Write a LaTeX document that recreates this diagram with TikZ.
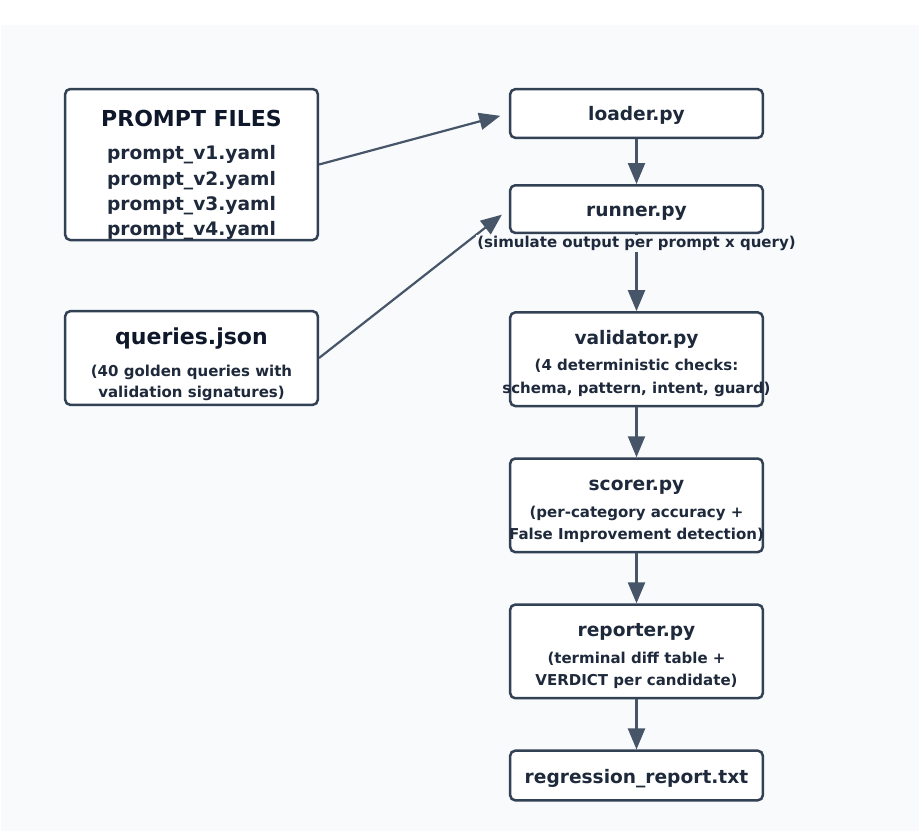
\documentclass[tikz,border=0pt]{standalone}
\usepackage{fontspec}
\setmainfont{DejaVu Sans}
\usetikzlibrary{arrows.meta, positioning}
\definecolor{PageBg}{HTML}{F8FAFC}
\definecolor{BoxEdge}{HTML}{334155}
\definecolor{FlowLine}{HTML}{475569}
\definecolor{InkDark}{HTML}{0F172A}
\definecolor{InkText}{HTML}{1E293B}
\newcommand{\stagetitle}{\fontsize{18.6}{25.3}\selectfont}
\newcommand{\inputtitle}{\fontsize{22}{28}\selectfont}
\newcommand{\stagenote}{\fontsize{15}{22.2}\selectfont}
\newcommand{\headroom}[1]{\rule{0pt}{#1}}

\begin{document}
\begin{tikzpicture}[
    x=1pt, y=-1pt,
    node distance=50pt,
    stage/.style={rectangle, rounded corners=5pt, draw=BoxEdge, line width=2.5pt, fill=white,
                  minimum width=252.6pt, inner sep=0pt, align=center, text=InkText, font=\bfseries\stagenote},
    flow/.style={-{Triangle[length=21pt, width=17pt]}, line width=2.2pt, draw=FlowLine, fill=FlowLine}
]

\useasboundingbox (0,0) rectangle (919,831);
\fill[PageBg] (1,25) rectangle (919,831);

% inputs
\node[stage, minimum height=150.6pt, font=\bfseries\stagetitle] (promptfiles) at (191.5,164.5)
    {\headroom{37.7pt}\inputtitle\textcolor{InkDark}{PROMPT FILES}\\[7.7pt]
     prompt\_v1.yaml\\prompt\_v2.yaml\\prompt\_v3.yaml\\prompt\_v4.yaml};

\node[stage, minimum height=93.6pt, font=\bfseries\fontsize{15}{21.7}\selectfont] (queries) at (191.5,358)
    {\headroom{29.6pt}\inputtitle\textcolor{InkDark}{queries.json}\\[10pt]
     (40 golden queries with\\validation signatures)};

% pipeline
\node[stage, minimum height=48.6pt] (loader) at (636.5,113.5) {\headroom{19pt}\stagetitle loader.py};

\node[stage, minimum height=47.6pt, below=45pt of loader] (runner) {\headroom{19.5pt}\stagetitle runner.py};

\node[stage, minimum height=93.6pt, below=77pt of runner] (validator)
    {\headroom{22.5pt}\stagetitle validator.py\\[4.1pt]
     (4 deterministic checks:\\\makebox[230pt]{schema, pattern, intent, guard)}};

\node[stage, minimum height=93.6pt, below=of validator] (scorer)
    {\headroom{22.5pt}\stagetitle scorer.py\\[4.1pt]
     (per-category accuracy +\\\makebox[230pt]{False Improvement detection)}};

\node[stage, minimum height=93.6pt, below=of scorer] (reporter)
    {\headroom{22.5pt}\stagetitle reporter.py\\[4.1pt]
     (terminal diff table +\\VERDICT per candidate)};

\node[stage, minimum height=49.6pt, below=of reporter] (report) {\headroom{19.5pt}\stagetitle regression\_report.txt};

\draw[flow, shorten >=9pt] (promptfiles.east) -- (loader.west);
\draw[flow, shorten >=9pt] (queries.east) -- (runner.west);

\draw[flow] (loader) -- (runner);
\draw[flow] (runner) -- (validator);
\draw[flow] (validator) -- (scorer);
\draw[flow] (scorer) -- (reporter);
\draw[flow] (reporter) -- (report);

\node[font=\bfseries\stagenote, text=InkText, fill=PageBg, inner sep=1pt, below=1pt of runner] (runnernote)
    {(simulate output per prompt x query)};

\end{tikzpicture}
\end{document}
